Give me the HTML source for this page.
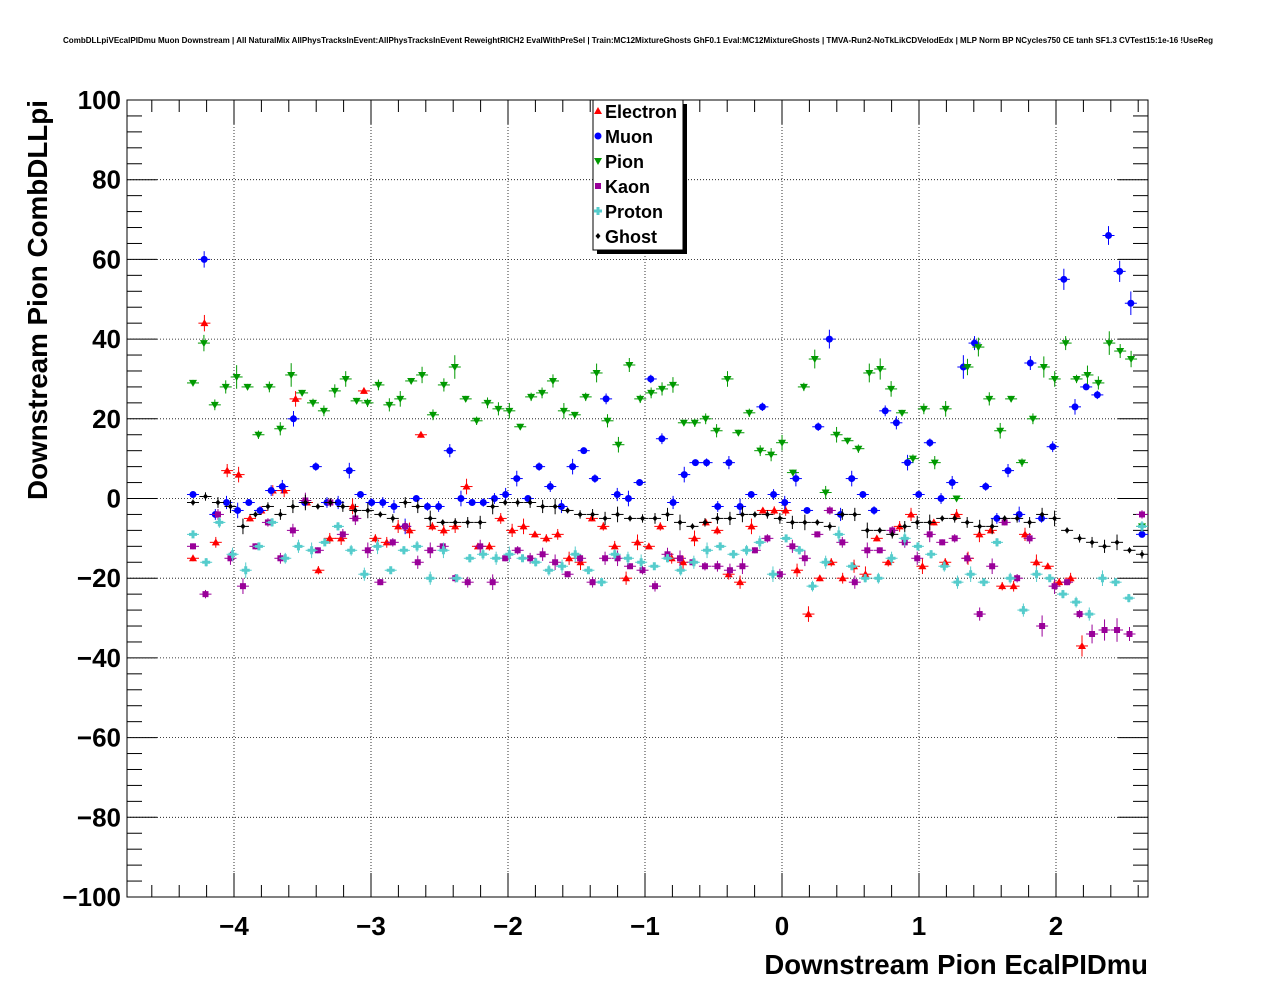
<!DOCTYPE html><html><head><meta charset="utf-8"><style>body{margin:0;background:#fff}svg{display:block}</style></head><body>
<svg id="s" width="1276" height="996" xmlns="http://www.w3.org/2000/svg" font-family="Liberation Sans, sans-serif">
<rect width="1276" height="996" fill="#fff"/>
<text x="638" y="43" font-size="8.2" font-weight="bold" text-anchor="middle" textLength="1150" lengthAdjust="spacingAndGlyphs">CombDLLpiVEcalPIDmu Muon Downstream | All NaturalMix AllPhysTracksInEvent:AllPhysTracksInEvent ReweightRICH2 EvalWithPreSel | Train:MC12MixtureGhosts GhF0.1 Eval:MC12MixtureGhosts | TMVA-Run2-NoTkLikCDVelodEdx | MLP Norm BP NCycles750 CE tanh SF1.3 CVTest15:1e-16 !UseReg</text>
<g id="g"></g>
</svg>
<script>
const g=document.getElementById('g');
let h='';
const X=v=>782+137*v, Y=v=>498.5-3.985*v;
for(let i=-4;i<=2;i++)h+=`<line x1="${X(i)}" y1="100" x2="${X(i)}" y2="897" stroke="#000" stroke-dasharray="1,2" stroke-width="0.8"/>`;
for(let v=-80;v<=80;v+=20)h+=`<line x1="127" y1="${Y(v)}" x2="1148" y2="${Y(v)}" stroke="#000" stroke-dasharray="1,2" stroke-width="0.8"/>`;
h+=`<rect x="127" y="100" width="1021" height="797" fill="none" stroke="#000"/>`;
for(let v=-4.6;v<=2.65;v+=0.2){let x=X(Math.round(v*10)/10);let maj=Math.abs(v-Math.round(v))<0.01;let l=maj?24:12;
h+=`<line x1="${x}" y1="897" x2="${x}" y2="${897-l}" stroke="#000"/><line x1="${x}" y1="100" x2="${x}" y2="${100+l}" stroke="#000"/>`;}
for(let v=-100;v<=100;v+=4){let y=Y(v);let l=v%20==0?30:15;
h+=`<line x1="127" y1="${y}" x2="${127+l}" y2="${y}" stroke="#000"/><line x1="1148" y1="${y}" x2="${1148-l}" y2="${y}" stroke="#000"/>`;}
for(let i=-4;i<=2;i++)h+=`<text x="${X(i)}" y="935" font-size="26" font-weight="bold" text-anchor="middle">${i<0?'\u2212'+(-i):i}</text>`;
for(let v=-100;v<=100;v+=20)h+=`<text x="121" y="${Y(v)+9}" font-size="26" font-weight="bold" text-anchor="end">${v<0?'\u2212'+(-v):v}</text>`;
h+=`<text x="1148" y="974" font-size="27.5" font-weight="bold" text-anchor="end">Downstream Pion EcalPIDmu</text>`;
h+=`<text transform="translate(47,100) rotate(-90)" font-size="27.8" font-weight="bold" text-anchor="end">Downstream Pion CombDLLpi</text>`;
const S={
e:{c:'#f00',m:'tu',d:[-15,44,-11,7,6,-5,-3,2,2,25,-1,-18,-10,-10,-2,27,-10,-11,-7,-8,16,-7,-8,-7,3,-12,-12,-5,-8,-7,-9,-10,-9,-15,-16,-5,-7,-12,-20,-11,-12,-7,-15,-16,-10,-6,-8,-19,-21,-7,-3,-3,-3,-18,-29,-20,-16,-20,-17,-19,-10,-16,-7,-4,-17,-6,-16,-4,-15,-9,-8,-22,-22,-9,-16,-17,-21,-20,-37]},
mu:{c:'#00f',m:'c',d:[1,60,-4,-1,-3,-1,-3,2,3,20,-1,8,-1,-1,7,1,-1,-1,-2,-7,0,-2,-2,12,0,-1,-1,0,1,5,0,8,3,-2,8,12,5,25,1,0,4,30,15,-1,6,9,9,-2,9,-2,1,23,1,-1,5,-3,18,40,-4,5,1,-3,22,19,9,1,14,0,4,33,39,3,-5,7,-4,34,-5,13,55,23,28,26,66,57,49,-9]},
pi:{c:'#090',m:'td',d:[29,39,23.5,28,30.5,28,16,28,17.5,31,26.5,24,22,27,30,24.5,24,28.5,23.5,25,29.5,31,21,28.5,33,25,19.5,24,22.5,22,18,25.5,26.5,29.5,22,21,25.5,31.5,19.5,13.5,33.5,25,26.5,27.5,28.5,19,19,20,17,30,16.5,21.5,12,11,14,6.5,28,35,1.5,16,14.5,12.5,31.5,32.5,27.5,21.5,10,22.5,9,22.5,0,33,38,25,17,25,9,20,33,30,39,30,31,29,39,37,35,-7]},
k:{c:'#909',m:'s',d:[-12,-24,-4,-15,-22,-12,-6,-15,-8,-0.5,-13,-1,-9,-5,-13,-21,-11,-7,-16,-13,-12,-20,-21,-12,-21,-15,-13,-15,-14,-16,-19,-15,-21,-15,-15,-17,-18,-22,-14,-15,-16,-17,-17,-18,-17,-13,-10,-19,-12,-15,-9,-3,-11,-21,-13,-13,-8,-11,-15,-9,-11,-10,-15,-29,-17,-6,-20,-10,-32,-22,-21,-29,-34,-33,-33,-34,-4]},
p:{c:'#5cc',m:'x',d:[-9,-16,-6,-14,-18,-12,-6,-15,-12,-13,-11,-7,-13,-19,-12,-18,-13,-12,-20,-13,-20,-15,-14,-15,-14,-15,-16,-18,-17,-14,-18,-21,-14,-15,-16,-17,-15,-18,-16,-13,-12,-14,-13,-11,-19,-10,-13,-22,-16,-9,-17,-20,-20,-15,-10,-12,-14,-17,-21,-19,-21,-11,-20,-28,-19,-20,-24,-26,-29,-20,-21,-25,-7]},
gh:{c:'#000',m:'dm',d:[-1,0.5,-1,-2,-7,-4,-2,-4,-2,-1,-2,-1,-2,-3,-3,-4,-5,-1,-2,-5,-6,-6,-6,-6,-2,-1,-1,-1,-2,-2,-3,-4,-4,-5,-4,-5,-5,-5,-4,-6,-7,-6,-5,-5,-4,-4,-4,-5,-6,-6,-6,-7,-4,-4,-8,-8,-9,-7,-6,-6,-5,-5,-6,-7,-7,-5,-5,-6,-4,-5,-8,-10,-11,-12,-11,-13,-14]}};
function mk(m,x,y,c){switch(m){
case 'tu':return `<polygon points="${x},${y-4} ${x-4},${y+3} ${x+4},${y+3}" fill="${c}"/>`;
case 'td':return `<polygon points="${x},${y+4} ${x-4},${y-3} ${x+4},${y-3}" fill="${c}"/>`;
case 'c':return `<circle cx="${x}" cy="${y}" r="3.5" fill="${c}"/>`;
case 's':return `<rect x="${x-3}" y="${y-3}" width="6" height="6" fill="${c}"/>`;
case 'x':return `<polygon points="${x-1.5},${y-4} ${x+1.5},${y-4} ${x+1.5},${y-1.5} ${x+4},${y-1.5} ${x+4},${y+1.5} ${x+1.5},${y+1.5} ${x+1.5},${y+4} ${x-1.5},${y+4} ${x-1.5},${y+1.5} ${x-4},${y+1.5} ${x-4},${y-1.5} ${x-1.5},${y-1.5}" fill="${c}"/>`;
case 'dm':return `<polygon points="${x},${y-3} ${x+2.5},${y} ${x},${y+3} ${x-2.5},${y}" fill="${c}"/>`;}}
for(const k in S){const s=S[k],n=s.d.length;
const x1=193,x2=(k=='e')?1082:1142;
s.d.forEach((v,i)=>{const x=x1+(x2-x1)*i/(n-1),y=Y(v);const e=3+(i%5)*1.2+(Math.abs(v)>30?4:0);
h+=`<line x1="${x}" y1="${y-e}" x2="${x}" y2="${y+e}" stroke="${s.c}"/><line x1="${x-6}" y1="${y}" x2="${x+6}" y2="${y}" stroke="${s.c}"/>`+mk(s.m,x,y,s.c);});}
h+=`<rect x="597" y="104" width="90" height="150" fill="#000"/><rect x="593" y="100" width="90" height="150" fill="#fff" stroke="#000"/>`;
const L=[['Electron','#f00','tu'],['Muon','#00f','c'],['Pion','#090','td'],['Kaon','#909','s'],['Proton','#5cc','x'],['Ghost','#000','dm']];
L.forEach((l,i)=>{const y=111+25*i;h+=mk(l[2],598,y,l[1])+`<text x="605" y="${y+7}" font-size="18" font-weight="bold">${l[0]}</text>`;});
g.innerHTML=h;
</script>
</body></html>
